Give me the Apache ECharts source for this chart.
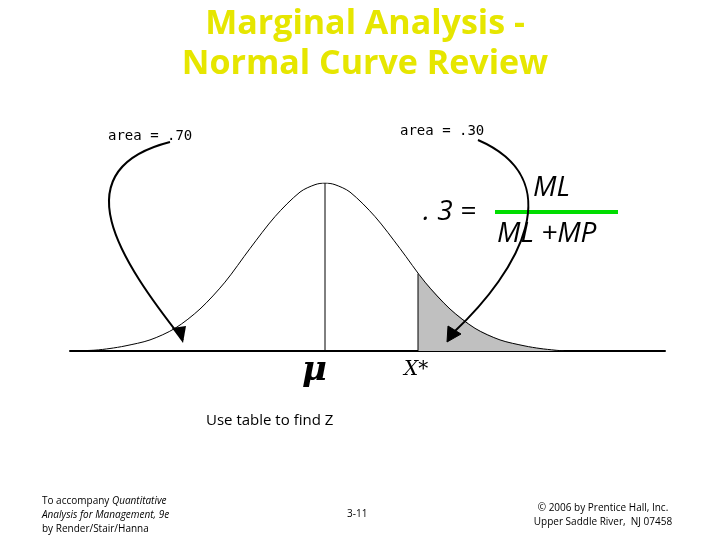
<!DOCTYPE html>
<html><head><meta charset="utf-8">
<script src="https://cdn.jsdelivr.net/npm/echarts@6/dist/echarts.min.js"></script>
<style>html,body{margin:0;background:#fff}#c{width:720px;height:540px}</style>
</head><body><div id="c"></div>
<script>
// curve: x offset from mean, relative height
const curveX = [-255, -230, -215, -200, -175, -150, -125, -100, -75, -50, -25, -10, 0, 10, 25, 50, 75, 100, 125, 150, 175, 200, 215, 230, 240];
const curveY = [0, 0.005, 0.015, 0.03, 0.066, 0.135, 0.25, 0.41, 0.61, 0.80, 0.946, 0.99, 1, 0.99, 0.946, 0.80, 0.61, 0.41, 0.25, 0.135, 0.066, 0.03, 0.015, 0.005, 0];
const shadeX = [93, 100, 125, 150, 175, 200, 215, 230, 240];
const shadeY = [0.46, 0.41, 0.25, 0.135, 0.066, 0.03, 0.015, 0.005, 0];
const xStar = 93;

const chart = echarts.init(document.getElementById('c'));
const pair = (xs, ys) => xs.map((x, i) => [x, ys[i]]);

chart.setOption({
  animation: false,
  grid: { left: 70, right: 55, top: 183, bottom: 189 },
  xAxis: { type: 'value', min: -255, max: 340, axisLine: { lineStyle: { color: '#000', width: 2 } },
    axisTick: { show: false }, axisLabel: { show: false }, splitLine: { show: false } },
  yAxis: { type: 'value', min: 0, max: 1, show: false },
  series: [
    { type: 'line', data: pair(shadeX, shadeY), showSymbol: false, lineStyle: { width: 0 },
      areaStyle: { color: '#c0c0c0', opacity: 1 } },
    { type: 'line', data: pair(curveX, curveY), showSymbol: false, smooth: 0.3,
      lineStyle: { color: '#000', width: 1 } },
    { type: 'line', data: [[0, 0], [0, 1]], showSymbol: false, lineStyle: { color: '#000', width: 1 } },
    { type: 'line', data: [[xStar, 0], [xStar, shadeY[0]]], showSymbol: false, lineStyle: { color: '#000', width: 1 } }
  ],
  graphic: [
    { type: 'text', x: 365, y: 4, style: { text: 'Marginal Analysis -\nNormal Curve Review', fill: '#e6e600',
      font: 'bold 34px "Open Sans"', align: 'center', lineHeight: 40 } },
    { type: 'text', left: 108, top: 129, style: { text: 'area = .70', font: '14px "DejaVu Sans Mono"', fill: '#000' } },
    { type: 'text', left: 400, top: 124, style: { text: 'area = .30', font: '14px "DejaVu Sans Mono"', fill: '#000' } },
    { type: 'bezierCurve', z: 10, shape: { x1: 170, y1: 142, cpx1: 60, cpy1: 170, cpx2: 120, cpy2: 260, x2: 183, y2: 340 },
      style: { stroke: '#000', lineWidth: 2, fill: null } },
    { type: 'polygon', z: 10, shape: { points: [[183, 343], [172, 328], [186, 326]] }, style: { fill: '#000' } },
    { type: 'bezierCurve', z: 10, shape: { x1: 478, y1: 140, cpx1: 570, cpy1: 180, cpx2: 520, cpy2: 270, x2: 454, y2: 332 },
      style: { stroke: '#000', lineWidth: 2, fill: null } },
    { type: 'polygon', z: 10, shape: { points: [[447, 342], [448, 326], [461, 334]] }, style: { fill: '#000', stroke: '#000' } },
    { type: 'text', left: 423, top: 198, style: { text: '. 3 =', font: 'italic 28px "Open Sans"', fill: '#000' } },
    { type: 'text', left: 533, top: 174, style: { text: 'ML', font: 'italic 28px "Open Sans"', fill: '#000' } },
    { type: 'line', shape: { x1: 495, y1: 212, x2: 618, y2: 212 }, style: { stroke: '#00dd00', lineWidth: 4 } },
    { type: 'text', left: 497, top: 220, style: { text: 'ML +MP', font: 'italic 28px "Open Sans"', fill: '#000' } },
    { type: 'text', left: 302, top: 354, style: { text: 'μ', font: 'bold italic 34px "DejaVu Serif"', fill: '#000' } },
    { type: 'text', left: 404, top: 360, style: { text: 'X*', font: 'italic 20px "DejaVu Serif"', fill: '#000' } },
    { type: 'text', left: 206, top: 413, style: { text: 'Use table to find Z', font: '15px "Open Sans"', fill: '#000' } },
    { type: 'text', left: 42, top: 494, style: { rich: { n: { font: '10px "Open Sans"' }, i: { font: 'italic 10px "Open Sans"' } },
      text: '{n|To accompany }{i|Quantitative}\n{i|Analysis for Management, 9e}\n{n|by Render/Stair/Hanna}', lineHeight: 14, fill: '#000' } },
    { type: 'text', left: 347, top: 509, style: { text: '3-11', font: '10px "Open Sans"', fill: '#000' } },
    { type: 'text', x: 603, y: 501, style: { text: '© 2006 by Prentice Hall, Inc.\nUpper Saddle River,  NJ 07458',
      font: '10px "Open Sans"', align: 'center', lineHeight: 14, fill: '#000' } }
  ]
});
</script></body></html>
